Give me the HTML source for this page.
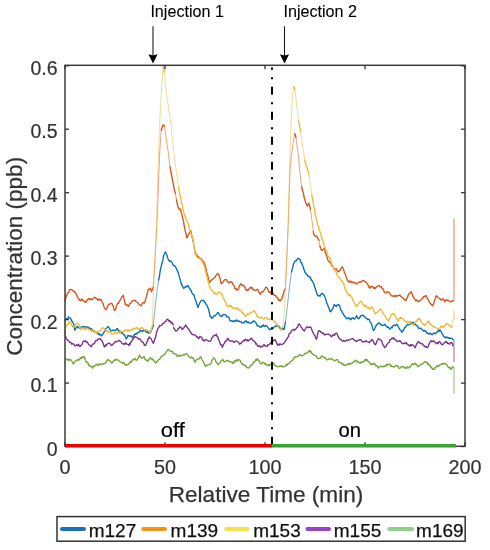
<!DOCTYPE html>
<html><head><meta charset="utf-8"><style>
html,body{margin:0;padding:0;background:#fff;}
body{width:490px;height:550px;overflow:hidden;}
svg{display:block;font-family:"Liberation Sans", sans-serif;filter:blur(0.35px);}
</style></head><body>
<svg width="490" height="550" viewBox="0 0 490 550">
<path d="M65.1,320.2 L65.8,319.4 L66.4,318.7 L67.1,319.0 L67.7,318.7 L68.3,316.9 L68.9,317.2 L69.8,317.9 L70.6,318.4 L71.2,319.6 L71.8,321.4 L72.4,321.3 L73.0,322.9 L73.6,323.7 L74.2,326.0 L74.8,330.2 L75.7,328.6 L76.5,327.3 L77.1,326.5 L77.8,326.7 L78.4,327.6 L79.1,327.6 L79.7,328.5 L80.4,328.0 L81.2,326.9 L82.0,326.7 L82.7,327.1 L83.5,326.5 L84.2,327.5 L85.0,326.9 L85.8,326.7 L86.5,327.0 L87.2,328.3 L87.9,326.8 L88.5,328.8 L89.2,328.0 L89.9,328.0 L90.6,329.1 L91.4,328.8 L92.2,329.7 L93.0,330.5 L93.7,331.5 L94.3,330.7 L95.0,331.9 L95.7,332.1 L96.4,332.8 L97.1,332.8 L97.8,333.5 L98.5,334.2 L99.1,333.8 L99.8,335.2 L100.5,334.5 L101.1,334.9 L101.8,335.7 L102.6,334.7 L103.4,333.0 L104.2,331.9 L104.9,331.1 L105.7,329.2 L106.5,328.0 L107.2,327.4 L108.0,326.5 L108.7,327.4 L109.3,328.1 L110.0,329.5 L110.7,330.5 L111.3,330.8 L112.0,330.8 L112.7,330.1 L113.3,330.6 L113.9,330.4 L114.6,330.2 L115.4,330.6 L116.2,329.9 L116.9,328.7 L117.7,328.7 L118.5,330.9 L119.2,331.2 L119.9,330.9 L120.6,331.9 L121.3,333.1 L122.0,333.0 L122.7,333.0 L123.3,334.3 L124.0,335.0 L124.7,335.0 L125.3,336.8 L126.3,338.9 L127.1,337.4 L127.9,335.3 L128.5,336.0 L129.2,335.7 L129.8,336.4 L130.4,335.8 L131.1,335.9 L131.7,337.2 L132.4,337.3 L133.1,336.5 L133.8,335.5 L134.5,334.3 L135.2,333.9 L135.8,334.3 L136.5,333.3 L137.2,333.8 L137.9,332.5 L138.6,332.2 L139.4,332.1 L140.2,330.5 L141.0,331.0 L141.6,331.2 L142.2,330.8 L142.9,331.2 L143.5,330.0 L144.1,331.0 L144.8,330.3 L145.4,330.9 L146.0,331.5 L146.7,332.3 L147.4,331.4 L148.1,332.8 L148.8,333.3 L149.7,332.2 L150.5,332.5 L151.1,330.6 L151.7,329.4 L152.3,329.1 L153.2,325.5" fill="none" stroke="#0570B5" stroke-width="1.35" stroke-linejoin="round" stroke-linecap="round"/>
<path d="M153.2,325.5 L153.9,319.1 L154.6,312.8 L155.2,306.4 L155.9,300.0 L156.6,295.0 L157.2,290.0 L157.9,285.0 L158.6,280.0" fill="none" stroke="#0570B5" stroke-width="0.9" stroke-opacity="0.6" stroke-linejoin="round" stroke-linecap="round"/>
<path d="M158.6,280.0 L159.3,276.9 L160.0,272.0 L160.7,268.6 L161.4,265.5 L162.1,262.5 L162.8,260.7 L163.4,256.4 L164.1,254.5 L164.8,253.0 L165.4,251.8 L166.1,253.2 L166.8,254.5 L167.4,257.1 L168.0,258.8 L168.6,260.0 L169.3,261.2 L170.0,260.5 L170.7,261.2 L171.4,261.8 L172.1,262.4 L172.8,264.4 L173.4,265.5 L174.1,265.5 L174.8,265.7 L175.5,267.3 L176.2,268.0 L176.9,269.5 L177.6,271.4 L178.3,272.9 L178.9,275.5 L179.6,277.6 L180.3,280.2 L180.9,282.1 L181.6,285.0 L182.3,285.2 L183.0,287.2 L183.7,288.5 L184.4,287.5 L185.0,287.2 L185.7,286.4 L186.4,287.0 L187.1,286.1 L187.8,285.4 L188.5,286.5 L189.1,287.7 L189.8,288.5 L190.5,290.2 L191.1,290.3 L191.8,292.5 L192.5,294.0 L193.2,294.5 L193.9,294.6 L194.6,297.5 L195.2,299.5 L195.9,301.0 L196.6,303.0 L197.3,305.2 L198.0,307.6 L198.7,305.1 L199.3,304.4 L200.0,302.4 L200.8,301.0 L201.6,300.5 L202.3,300.3 L203.1,300.4 L203.8,300.7 L204.6,302.1 L205.3,302.6 L206.1,304.5 L206.8,304.9 L207.5,306.5 L208.2,308.6 L208.9,310.5 L209.5,313.7 L210.2,316.7 L210.9,316.1 L211.5,318.2 L212.2,317.8 L213.0,317.5 L213.8,316.0 L214.5,315.7 L215.3,315.7 L216.1,314.6 L216.9,313.9 L217.6,312.7 L218.4,312.7 L219.2,314.4 L219.9,315.7 L220.7,315.6 L221.4,316.7 L222.2,316.2 L222.9,314.9 L223.7,314.4 L224.5,314.7 L225.3,314.9 L226.1,315.2 L226.8,316.9 L227.6,316.7 L228.3,317.0 L229.1,317.8 L229.8,320.7 L230.6,320.8 L231.4,321.1 L232.1,320.6 L232.9,321.6 L233.7,321.8 L234.4,320.4 L235.2,320.9 L235.9,321.3 L236.7,319.8 L237.5,321.0 L238.2,321.2 L239.0,320.8 L239.8,321.8 L240.6,321.8 L241.4,321.7 L242.1,323.2 L242.9,322.9 L243.6,322.6 L244.2,322.7 L244.8,321.4 L245.5,321.3 L246.2,320.9 L246.8,322.2 L247.4,322.6 L248.1,321.8 L248.8,322.8 L249.6,323.0 L250.3,323.3 L251.1,322.9 L251.9,322.9 L252.6,321.3 L253.4,321.4 L254.2,320.8 L254.9,321.8 L255.7,322.4 L256.4,323.7 L257.2,325.9 L258.0,325.7 L258.8,325.9 L259.5,327.0 L260.3,326.9 L261.1,327.3 L261.9,325.8 L262.6,326.3 L263.4,324.9 L264.1,326.1 L264.9,326.3 L265.6,325.4 L266.4,325.9 L267.2,326.4 L267.9,327.4 L268.7,328.4 L269.5,330.0 L270.3,328.9 L271.1,329.2 L271.8,329.3 L272.6,328.0 L273.4,328.2 L274.1,326.9 L274.9,326.7 L275.6,325.9 L276.4,326.5 L277.1,325.1 L277.9,326.2 L278.7,325.9 L279.4,327.5 L280.2,328.0 L280.9,328.7 L281.7,329.0 L282.3,329.0 L282.9,328.4 L283.6,329.6 L284.2,329.0 L284.9,325.2 L285.5,322.0" fill="none" stroke="#0570B5" stroke-width="1.35" stroke-linejoin="round" stroke-linecap="round"/>
<path d="M285.5,322.0 L286.2,316.3 L286.8,310.7 L287.5,305.0 L288.2,299.0 L288.8,293.0 L289.5,287.0 L290.1,282.0 L290.8,277.0 L291.4,272.0" fill="none" stroke="#0570B5" stroke-width="0.9" stroke-opacity="0.6" stroke-linejoin="round" stroke-linecap="round"/>
<path d="M291.4,272.0 L292.1,269.8 L292.8,267.4 L293.5,263.7 L294.2,262.5 L294.8,261.4 L295.5,260.6 L296.2,260.8 L296.9,259.7 L297.6,258.6 L298.3,258.3 L298.9,258.5 L299.6,259.6 L300.3,259.9 L300.9,262.5 L301.6,262.7 L302.3,265.3 L303.0,266.1 L303.7,268.8 L304.4,270.8 L305.0,272.5 L305.7,272.9 L306.4,274.2 L307.1,274.6 L307.8,275.9 L308.5,276.5 L309.1,276.2 L309.8,277.5 L310.5,277.4 L311.1,280.1 L311.8,280.0 L312.5,281.6 L313.2,282.7 L313.9,284.0 L314.6,287.0 L315.2,288.2 L315.9,290.5 L316.6,293.0 L317.3,294.7 L318.0,295.8 L318.7,295.4 L319.3,295.6 L320.0,296.3 L320.7,294.9 L321.3,293.8 L322.0,293.3 L322.7,294.1 L323.4,294.2 L324.1,295.3 L324.8,296.8 L325.4,298.0 L326.1,300.4 L326.8,303.3 L327.5,304.2 L328.2,306.5 L328.9,308.1 L329.5,310.1 L330.2,311.6 L330.9,311.7 L331.5,310.1 L332.2,309.6 L332.9,308.7 L333.6,306.2 L334.3,304.5 L335.0,305.2 L335.6,305.9 L336.3,306.5 L337.0,304.9 L337.7,305.0 L338.4,304.5 L339.1,305.2 L339.7,306.2 L340.4,308.6 L341.1,310.6 L341.7,310.7 L342.4,312.7 L343.1,313.6 L343.8,315.2 L344.5,315.7 L345.2,316.8 L345.8,317.4 L346.5,318.8 L347.2,318.5 L347.9,318.2 L348.6,317.8 L349.3,319.0 L349.9,318.3 L350.6,319.8 L351.3,319.3 L352.0,318.0 L352.7,317.8 L353.4,317.7 L354.0,319.0 L354.7,318.8 L355.4,317.8 L356.0,316.9 L356.7,315.7 L357.4,317.3 L358.1,318.6 L358.8,318.8 L359.5,317.7 L360.1,317.0 L360.8,315.7 L361.6,315.5 L362.3,315.3 L363.1,315.1 L363.9,316.3 L364.6,316.6 L365.4,317.5 L366.1,318.2 L366.9,318.4 L367.6,319.6 L368.4,319.3 L369.2,319.2 L369.9,321.3 L370.5,322.8 L371.2,323.3 L371.9,325.2 L372.6,328.2 L373.3,330.4 L374.0,330.3 L374.6,329.0 L375.3,327.3 L376.1,325.6 L376.9,324.5 L377.6,324.2 L378.4,323.3 L379.1,322.9 L379.9,323.8 L380.6,323.9 L381.4,325.3 L382.2,325.4 L382.9,325.4 L383.7,325.3 L384.5,324.3 L385.3,324.4 L386.1,326.2 L386.8,326.9 L387.6,327.3 L388.4,326.9 L389.1,328.6 L389.9,329.1 L390.6,328.4 L391.4,327.1 L392.1,327.8 L392.9,325.9 L393.7,325.3 L394.4,325.0 L395.2,325.8 L395.9,325.2 L396.7,324.3 L397.5,324.9 L398.2,326.7 L399.0,328.2 L399.8,329.4 L400.5,330.1 L401.1,330.8 L401.8,332.4 L402.5,331.0 L403.2,330.8 L403.9,329.4 L404.6,327.4 L405.4,327.5 L406.1,326.2 L406.9,325.3 L407.7,324.1 L408.4,324.5 L409.2,324.8 L410.0,324.3 L410.8,323.8 L411.6,322.4 L412.3,323.7 L413.1,322.2 L413.9,323.6 L414.6,324.7 L415.4,323.7 L416.1,325.3 L416.9,325.6 L417.6,325.9 L418.4,328.2 L419.2,328.4 L419.9,328.2 L420.7,328.2 L421.4,329.0 L422.2,329.4 L423.0,330.7 L423.8,331.0 L424.5,330.4 L425.3,331.4 L426.1,331.2 L426.9,333.3 L427.6,333.1 L428.4,333.5 L429.1,334.2 L429.9,333.2 L430.6,333.4 L431.4,334.5 L432.2,334.6 L432.9,333.9 L433.7,332.9 L434.5,333.5 L435.3,333.9 L436.1,332.7 L436.8,332.5 L437.6,331.4 L438.4,330.3 L439.1,331.6 L439.9,329.8 L440.6,330.4 L441.4,332.7 L442.1,333.4 L442.9,334.7 L443.7,336.5 L444.4,336.9 L445.2,337.9 L445.9,336.9 L446.7,337.6 L447.5,337.1 L448.2,338.2 L449.0,337.8 L449.8,338.6 L450.6,338.1 L451.4,338.4 L452.1,338.5 L452.9,339.6" fill="none" stroke="#0570B5" stroke-width="1.35" stroke-linejoin="round" stroke-linecap="round"/>
<path d="M452.9,339.6 L454,339.6 L454,345" fill="none" stroke="#0570B5" stroke-width="1" stroke-opacity="0.75"/>
<path d="M65,325 L65.1,320.2" fill="none" stroke="#0570B5" stroke-width="1" stroke-opacity="0.6"/>
<path d="M65.1,300.4 L65.8,297.8 L66.4,296.0 L67.1,294.3 L67.9,292.6 L68.7,292.3 L69.4,290.1 L70.2,289.2 L71.0,289.7 L71.8,289.6 L72.5,290.4 L73.3,291.2 L74.0,291.0 L74.8,292.3 L75.5,292.6 L76.3,294.3 L77.1,296.3 L77.8,297.5 L78.6,298.3 L79.4,300.4 L80.2,300.1 L80.9,300.8 L81.7,298.9 L82.4,299.4 L83.2,300.8 L84.0,300.8 L84.7,301.6 L85.5,302.4 L86.3,302.1 L87.0,300.2 L87.8,299.4 L88.6,298.4 L89.3,299.0 L90.1,299.9 L90.8,298.8 L91.6,299.4 L92.4,299.5 L93.2,298.8 L93.9,298.1 L94.7,297.3 L95.5,297.9 L96.2,298.5 L97.0,298.7 L97.8,300.4 L98.5,299.4 L99.3,299.0 L100.0,300.1 L100.8,299.4 L101.6,300.7 L102.3,302.3 L103.1,303.9 L103.9,306.5 L104.6,308.2 L105.2,309.3 L105.9,309.6 L106.7,308.7 L107.5,306.6 L108.2,305.3 L109.0,304.5 L109.8,303.8 L110.5,303.9 L111.2,303.1 L112.0,303.5 L112.7,305.2 L113.3,306.6 L114.0,309.7 L114.7,310.6 L115.5,309.5 L116.3,306.6 L117.1,304.5 L117.9,303.0 L118.7,303.4 L119.4,301.0 L120.2,300.4 L121.0,298.8 L121.8,296.9 L122.5,296.3 L123.3,295.3 L124.0,298.3 L124.6,301.4 L125.3,304.5 L126.1,304.4 L126.8,305.5 L127.6,305.0 L128.4,306.5 L129.2,305.0 L129.9,303.6 L130.7,303.2 L131.4,302.4 L132.2,301.0 L132.9,300.4 L133.7,300.5 L134.5,300.4 L135.3,300.4 L136.1,301.6 L136.8,302.0 L137.6,302.4 L138.3,303.7 L139.1,304.3 L139.8,305.2 L140.6,305.5 L141.4,305.5 L142.1,303.7 L142.9,302.8 L143.7,302.4 L144.3,303.1 L145.0,301.8 L145.6,298.8 L146.2,297.7 L146.8,295.0 L147.4,293.3 L148.0,290.1 L148.6,289.0 L149.2,289.4 L149.9,289.3 L150.5,288.2 L151.4,291.8 L152.0,290.6 L152.6,289.3 L153.2,287.3" fill="none" stroke="#D95319" stroke-width="1.35" stroke-linejoin="round" stroke-linecap="round"/>
<path d="M153.2,287.3 L153.8,278.2 L154.4,269.1 L155.0,260.0 L155.7,246.7 L156.4,233.3 L157.1,220.0 L157.8,202.7 L158.4,185.3 L159.1,167.9 L159.8,150.6 L160.5,140.4 L161.2,130.2" fill="none" stroke="#D95319" stroke-width="0.9" stroke-opacity="0.6" stroke-linejoin="round" stroke-linecap="round"/>
<path d="M161.2,130.2 L161.9,128.3 L162.7,125.1 L163.5,124.9 L164.3,126.1" fill="none" stroke="#D95319" stroke-width="1.35" stroke-linejoin="round" stroke-linecap="round"/>
<path d="M164.3,126.1 L165.1,131.2 L165.9,136.3 L166.6,141.1 L167.3,145.8 L168.0,150.6 L168.7,156.0 L169.3,161.5 L170.0,166.9" fill="none" stroke="#D95319" stroke-width="0.9" stroke-opacity="0.6" stroke-linejoin="round" stroke-linecap="round"/>
<path d="M170.0,166.9 L170.7,170.3 L171.3,173.7 L172.0,177.1 L172.8,181.9 L173.5,185.3 L174.2,188.6 L174.8,191.4 L175.5,193.5" fill="none" stroke="#D95319" stroke-width="1.35" stroke-linejoin="round" stroke-linecap="round"/>
<path d="M175.5,193.5 L176.5,200.0" fill="none" stroke="#D95319" stroke-width="0.9" stroke-opacity="0.6" stroke-linejoin="round" stroke-linecap="round"/>
<path d="M176.5,200.0 L177.1,203.0 L177.6,205.7 L178.6,208.2 L179.3,209.3 L179.9,209.2 L180.6,209.2 L181.3,212.7 L182.0,214.8 L182.7,218.4 L183.4,220.9 L184.0,224.5 L184.7,228.6 L185.4,231.4 L186.0,233.9 L186.7,237.8 L187.4,237.1 L188.1,235.2 L188.8,233.7 L189.5,232.9 L190.1,231.9 L190.8,230.6 L191.5,234.4 L192.2,237.4 L192.9,240.8" fill="none" stroke="#D95319" stroke-width="1.35" stroke-linejoin="round" stroke-linecap="round"/>
<path d="M192.9,240.8 L193.6,244.9 L194.2,249.0 L194.9,253.1" fill="none" stroke="#D95319" stroke-width="0.9" stroke-opacity="0.6" stroke-linejoin="round" stroke-linecap="round"/>
<path d="M194.9,253.1 L195.6,252.8 L196.2,255.0 L196.9,255.1 L197.7,256.4 L198.4,256.7 L199.2,257.5 L200.0,258.2 L200.8,259.3 L201.6,258.8 L202.3,260.9 L203.1,261.2 L203.8,262.1 L204.4,263.1 L205.1,265.3 L205.8,267.6 L206.4,271.2 L207.1,273.5 L207.8,275.6 L208.5,279.4 L209.2,281.6 L209.9,282.2 L210.5,280.9 L211.2,280.6 L212.0,279.6 L212.8,279.1 L213.5,278.7 L214.3,277.6 L215.1,277.1 L215.8,275.8 L216.6,274.8 L217.3,273.5 L218.0,273.7 L218.7,274.8 L219.4,276.5 L220.1,278.4 L220.7,281.8 L221.4,283.7 L222.1,282.6 L222.8,282.4 L223.5,281.6 L224.2,280.1 L225.0,279.7 L225.8,279.6 L226.5,279.6 L227.2,281.0 L227.9,282.1 L228.6,282.7 L229.3,282.8 L230.1,281.7 L230.8,281.9 L231.6,281.6 L232.4,283.1 L233.1,284.6 L233.9,285.5 L234.7,287.8 L235.5,289.1 L236.2,288.2 L237.0,290.3 L237.8,289.8 L238.6,289.1 L239.3,285.8 L240.1,285.1 L240.8,283.7 L241.6,284.8 L242.4,285.6 L243.1,285.1 L243.9,285.7 L244.6,286.6 L245.2,287.9 L245.9,289.8 L246.6,290.8 L247.4,289.5 L248.1,290.2 L248.8,289.6 L249.6,287.9 L250.3,287.9 L251.1,287.1 L251.9,288.8 L252.6,287.9 L253.4,290.1 L254.2,290.2 L254.9,290.0 L255.7,290.5 L256.4,289.9 L257.2,289.2 L258.0,289.9 L258.8,292.5 L259.5,293.0 L260.3,294.3 L261.1,292.6 L261.9,291.8 L262.6,292.0 L263.4,291.2 L264.1,290.1 L264.9,288.8 L265.6,287.4 L266.4,287.1 L267.2,288.1 L267.9,289.4 L268.7,291.8 L269.5,292.5 L270.3,291.8 L271.1,293.7 L271.8,294.2 L272.6,293.8 L273.4,293.4 L274.1,295.4 L274.9,295.4 L275.6,295.3 L276.4,297.4 L277.1,297.4 L277.9,298.9 L278.7,300.4 L279.4,299.9 L280.2,300.9 L280.9,299.8 L281.7,299.4 L282.3,297.0 L282.9,295.0 L283.5,293.0 L284.1,291.3 L284.7,289.6 L285.3,289.2" fill="none" stroke="#D95319" stroke-width="1.35" stroke-linejoin="round" stroke-linecap="round"/>
<path d="M285.3,289.2 L286.3,270.8 L287.1,250.4 L288.0,230.0 L288.7,209.4 L289.4,188.8 L290.1,168.2 L290.8,161.8 L291.4,155.5 L292.0,151.2 L292.6,147.0 L293.2,142.7 L293.9,138.1 L294.6,133.6" fill="none" stroke="#D95319" stroke-width="0.9" stroke-opacity="0.6" stroke-linejoin="round" stroke-linecap="round"/>
<path d="M294.6,133.6 L295.2,134.7 L295.9,137.3" fill="none" stroke="#D95319" stroke-width="1.35" stroke-linejoin="round" stroke-linecap="round"/>
<path d="M295.9,137.3 L296.5,141.9 L297.2,146.4 L297.9,151.9 L298.6,157.3 L299.6,170.4 L300.3,175.8 L300.9,181.3 L301.6,186.7" fill="none" stroke="#D95319" stroke-width="0.9" stroke-opacity="0.6" stroke-linejoin="round" stroke-linecap="round"/>
<path d="M301.6,186.7 L302.3,190.1 L303.0,191.7 L303.7,194.9 L304.4,198.5 L305.0,199.9 L305.7,203.1 L306.4,204.1 L307.1,206.1 L308.0,204.6 L308.8,203.1 L309.6,205.5 L310.4,209.2" fill="none" stroke="#D95319" stroke-width="1.35" stroke-linejoin="round" stroke-linecap="round"/>
<path d="M310.4,209.2 L311.1,214.3 L311.8,219.4 L312.6,225.5 L313.3,231.6" fill="none" stroke="#D95319" stroke-width="0.9" stroke-opacity="0.6" stroke-linejoin="round" stroke-linecap="round"/>
<path d="M313.3,231.6 L313.9,235.1 L314.6,235.1 L315.4,236.5 L316.1,236.6 L316.9,236.1 L317.6,238.1 L318.3,239.1 L319.0,240.2" fill="none" stroke="#D95319" stroke-width="1.35" stroke-linejoin="round" stroke-linecap="round"/>
<path d="M319.0,240.2 L320.0,246.3" fill="none" stroke="#D95319" stroke-width="0.9" stroke-opacity="0.6" stroke-linejoin="round" stroke-linecap="round"/>
<path d="M320.0,246.3 L320.7,248.5 L321.3,249.9 L322.0,250.4 L322.7,249.8 L323.4,249.5 L324.1,248.4 L324.8,249.5 L325.4,252.9 L326.1,254.5 L326.8,256.4 L327.5,259.1 L328.2,260.6 L328.9,261.6 L329.5,261.6 L330.2,262.7 L330.9,262.8 L331.5,265.6 L332.2,265.7 L332.9,266.3 L333.6,268.4 L334.3,269.8 L335.0,269.2 L335.6,268.7 L336.3,268.8 L337.0,270.3 L337.7,271.8 L338.4,271.8 L339.1,270.7 L339.7,270.8 L340.4,269.8 L341.1,268.4 L341.7,267.8 L342.4,266.7 L343.1,268.6 L343.8,270.2 L344.5,272.9 L345.2,273.9 L345.8,275.7 L346.5,278.0 L347.2,280.1 L347.9,280.7 L348.6,282.0 L349.3,281.1 L349.9,282.1 L350.6,281.0 L351.4,282.5 L352.1,281.9 L352.9,281.9 L353.7,283.1 L354.4,282.7 L355.2,282.8 L355.9,283.5 L356.7,284.1 L357.5,282.8 L358.2,282.5 L359.0,282.0 L359.8,282.0 L360.5,281.8 L361.1,282.1 L361.8,281.5 L362.4,280.5 L363.1,280.4 L363.9,280.7 L364.6,281.4 L365.4,281.7 L366.1,282.4 L366.9,283.4 L367.6,284.1 L368.4,285.9 L369.2,287.6 L369.9,288.3 L370.7,286.3 L371.4,286.8 L372.2,286.5 L373.0,287.3 L373.8,288.3 L374.5,287.5 L375.3,288.6 L376.1,287.4 L376.9,286.5 L377.6,286.1 L378.4,285.5 L379.1,285.6 L379.9,286.9 L380.6,286.9 L381.4,286.5 L382.2,288.8 L382.9,288.6 L383.7,290.2 L384.5,292.7 L385.3,292.8 L386.1,292.9 L386.8,291.8 L387.6,291.6 L388.4,292.5 L389.1,292.2 L389.9,293.7 L390.6,294.7 L391.4,295.8 L392.1,295.9 L392.9,296.2 L393.7,295.7 L394.4,296.9 L395.2,295.7 L395.9,295.7 L396.7,296.7 L397.5,295.5 L398.2,295.7 L399.0,295.6 L399.8,294.7 L400.6,296.4 L401.4,296.7 L402.1,297.3 L402.9,297.8 L403.6,299.1 L404.4,299.2 L405.1,300.2 L405.9,300.8 L406.7,298.1 L407.4,297.8 L408.2,294.9 L409.0,293.7 L409.7,293.8 L410.3,292.6 L411.0,291.6 L411.7,292.9 L412.4,294.3 L413.1,296.7 L413.8,297.2 L414.4,299.0 L415.1,299.8 L415.9,300.7 L416.6,300.0 L417.4,300.4 L418.2,301.8 L418.9,301.3 L419.7,301.0 L420.4,300.1 L421.2,299.8 L422.0,298.5 L422.8,298.5 L423.5,296.5 L424.3,296.7 L425.0,296.0 L425.6,296.0 L426.3,295.7 L427.0,298.0 L427.7,298.7 L428.4,299.8 L429.1,301.9 L429.7,302.5 L430.4,303.9 L431.1,304.0 L431.7,304.7 L432.4,305.9 L433.1,305.1 L433.8,302.9 L434.5,300.8 L435.2,298.7 L435.8,296.4 L436.5,295.7 L437.2,296.4 L437.9,297.4 L438.6,297.8 L439.3,298.3 L439.9,298.6 L440.6,299.8 L441.3,299.8 L442.0,300.0 L442.7,298.8 L443.4,299.3 L444.0,299.9 L444.7,301.8 L445.4,300.8 L446.0,300.3 L446.7,299.8 L447.4,300.5 L448.1,299.9 L448.8,300.8 L449.5,301.7 L450.1,301.9 L450.8,301.8 L451.5,301.5 L452.2,300.5 L452.9,300.8" fill="none" stroke="#D95319" stroke-width="1.35" stroke-linejoin="round" stroke-linecap="round"/>
<path d="M452.9,300.8 L454,300.8 L454,218.5" fill="none" stroke="#D95319" stroke-width="1" stroke-opacity="0.75"/>
<path d="M65,302 L65.1,300.4" fill="none" stroke="#D95319" stroke-width="1" stroke-opacity="0.6"/>
<path d="M65.1,327.3 L65.8,327.4 L66.4,325.3 L67.1,324.9 L67.9,324.6 L68.7,322.4 L69.5,322.0 L70.3,322.3 L71.2,323.7 L71.8,325.4 L72.4,325.7 L73.0,327.3 L73.6,327.9 L74.2,326.8 L74.8,326.5 L75.7,324.5 L76.5,323.7 L77.3,323.3 L78.1,323.9 L78.9,324.3 L79.7,327.0 L80.4,329.1 L81.1,329.7 L81.7,327.8 L82.3,328.1 L83.0,328.0 L83.6,327.8 L84.2,329.7 L84.9,328.5 L85.5,329.6 L86.1,328.4 L86.8,328.2 L87.4,328.6 L88.0,328.5 L88.7,329.7 L89.3,330.1 L89.9,330.2 L90.6,330.1 L91.4,331.2 L92.2,331.2 L93.0,330.5 L93.7,330.6 L94.3,330.7 L95.0,332.6 L95.7,332.1 L96.5,332.6 L97.2,331.2 L98.0,332.4 L98.8,332.1 L99.5,331.2 L100.1,330.4 L100.8,330.0 L101.5,329.0 L102.2,328.1 L102.9,328.1 L103.6,327.7 L104.2,328.9 L104.9,330.0 L105.6,330.1 L106.2,331.6 L106.9,331.1 L107.7,330.6 L108.5,332.5 L109.2,331.2 L110.0,332.0 L110.8,332.3 L111.5,333.8 L112.3,334.4 L113.1,334.3 L113.8,333.8 L114.6,332.6 L115.3,333.1 L116.1,332.8 L116.8,332.4 L117.5,333.4 L118.2,331.9 L118.8,332.1 L119.5,333.1 L120.2,332.2 L121.0,331.0 L121.8,331.5 L122.5,332.1 L123.3,331.2 L124.0,331.6 L124.8,330.0 L125.5,329.9 L126.3,330.7 L127.0,329.7 L127.7,331.4 L128.3,330.0 L129.0,330.9 L129.7,331.1 L130.4,330.2 L131.1,329.5 L131.8,329.1 L132.4,330.1 L133.1,329.1 L133.8,328.1 L134.5,328.2 L135.2,328.7 L135.9,328.0 L136.6,328.0 L137.2,327.5 L137.9,329.1 L138.6,328.7 L139.3,329.4 L140.0,328.8 L140.6,329.3 L141.3,327.4 L142.0,327.8 L142.7,328.2 L143.4,328.5 L144.2,329.9 L144.9,330.2 L145.7,329.7 L146.5,329.8 L147.2,330.0 L148.0,330.7 L148.8,331.2 L149.5,331.7 L150.1,333.1 L150.8,332.8 L151.6,328.8 L152.3,326.0" fill="none" stroke="#EDBA38" stroke-width="1.35" stroke-linejoin="round" stroke-linecap="round"/>
<path d="M152.3,326.0 L153.2,300.0 L154.1,276.0 L154.7,264.0 L155.3,252.0 L155.9,240.0 L156.6,220.0 L157.4,190.0 L158.3,160.0 L159.1,140.0 L159.8,120.0 L160.7,105.0 L161.5,90.0 L162.3,78.2 L163.2,66.5" fill="none" stroke="#EDBA38" stroke-width="0.9" stroke-opacity="0.6" stroke-linejoin="round" stroke-linecap="round"/>
<path d="M163.2,66.5 L163.8,69.9 L164.5,72.0" fill="none" stroke="#EDBA38" stroke-width="1.35" stroke-linejoin="round" stroke-linecap="round"/>
<path d="M164.5,72.0 L165.2,81.0 L166.0,90.0 L166.7,94.7 L167.3,99.3 L168.0,104.0 L168.8,109.3 L169.6,114.7 L170.4,120.0 L171.1,126.8 L171.7,133.6 L172.4,140.4 L173.1,145.8 L173.8,151.3 L174.5,156.7 L175.2,162.2 L175.8,167.6 L176.5,173.1 L177.2,177.8 L177.9,182.6 L178.6,187.3" fill="none" stroke="#EDBA38" stroke-width="0.9" stroke-opacity="0.6" stroke-linejoin="round" stroke-linecap="round"/>
<path d="M178.6,187.3 L179.3,191.2 L179.9,194.8 L180.6,197.6 L181.3,201.5 L182.0,204.6 L182.7,207.8 L183.7,212.2 L184.4,213.9 L185.0,216.0 L185.7,218.4 L186.4,219.5 L187.1,221.6 L187.8,222.4 L188.5,224.3 L189.1,227.3 L189.8,230.6 L190.5,232.8 L191.1,233.5 L191.8,235.7 L192.5,237.9 L193.2,240.9 L193.9,244.9 L194.6,248.4 L195.2,251.4 L195.9,255.1 L196.7,256.8 L197.4,257.4 L198.2,258.4 L199.0,258.2 L199.8,258.5 L200.5,258.9 L201.2,259.6 L202.0,261.2 L202.7,262.6 L203.4,264.4 L204.1,265.3 L204.8,267.9 L205.4,270.2 L206.1,273.5 L206.8,276.0 L207.5,279.1 L208.2,281.6 L208.9,284.1 L209.5,286.4 L210.2,288.0 L211.0,289.7 L211.8,290.4 L212.5,290.4 L213.3,292.2 L214.1,293.4 L214.8,292.8 L215.6,293.9 L216.3,294.3 L217.1,293.5 L217.9,293.7 L218.6,292.1 L219.4,292.2 L220.2,292.5 L220.9,293.2 L221.7,293.8 L222.4,295.3 L223.1,297.8 L223.8,298.9 L224.5,300.4 L225.3,301.6 L226.1,303.2 L226.8,306.0 L227.6,306.5 L228.3,306.3 L229.1,305.5 L229.8,306.4 L230.6,305.5 L231.4,306.6 L232.1,308.0 L232.9,307.0 L233.7,308.6 L234.4,308.3 L235.2,308.7 L235.9,308.5 L236.7,307.6 L237.5,309.2 L238.2,308.2 L239.0,309.4 L239.8,310.6 L240.6,310.4 L241.4,311.0 L242.1,313.1 L242.9,312.7 L243.6,313.7 L244.2,315.3 L244.8,315.1 L245.5,316.2 L246.1,316.3 L246.8,314.8 L247.4,313.8 L248.0,313.7 L248.8,314.0 L249.6,314.1 L250.3,312.2 L251.1,312.7 L251.9,312.4 L252.6,311.9 L253.4,310.6 L254.2,310.6 L254.9,311.9 L255.7,312.9 L256.4,314.6 L257.2,316.7 L258.0,316.5 L258.8,317.4 L259.5,317.8 L260.3,317.8 L261.1,317.5 L261.9,317.3 L262.6,318.2 L263.4,318.8 L264.1,318.9 L264.9,317.7 L265.6,317.7 L266.4,317.8 L267.2,317.7 L267.9,319.4 L268.7,319.4 L269.5,319.8 L270.3,318.9 L271.1,319.0 L271.8,319.6 L272.6,319.8 L273.4,320.7 L274.1,321.6 L274.9,321.3 L275.6,322.9 L276.4,323.5 L277.1,325.8 L277.9,326.5 L278.7,328.0 L279.4,328.2 L280.0,328.9 L280.7,330.0 L281.4,329.9 L282.1,327.6 L282.8,326.9" fill="none" stroke="#EDBA38" stroke-width="1.35" stroke-linejoin="round" stroke-linecap="round"/>
<path d="M282.8,326.9 L283.6,319.2 L284.3,311.6 L285.1,295.8 L285.9,280.0 L286.6,263.3 L287.3,246.7 L288.0,230.0 L288.8,199.1 L289.5,168.2 L290.2,146.3 L291.0,124.5 L291.6,110.9 L292.3,97.3 L293.0,91.8 L293.7,86.4" fill="none" stroke="#EDBA38" stroke-width="0.9" stroke-opacity="0.6" stroke-linejoin="round" stroke-linecap="round"/>
<path d="M293.7,86.4 L294.4,88.3 L295.0,90.0" fill="none" stroke="#EDBA38" stroke-width="1.35" stroke-linejoin="round" stroke-linecap="round"/>
<path d="M295.0,90.0 L295.6,95.5 L296.2,100.9 L296.8,106.4 L297.4,111.2 L298.0,116.1 L298.6,120.9" fill="none" stroke="#EDBA38" stroke-width="0.9" stroke-opacity="0.6" stroke-linejoin="round" stroke-linecap="round"/>
<path d="M298.6,120.9 L299.2,124.2 L299.9,128.0 L300.5,131.8" fill="none" stroke="#EDBA38" stroke-width="1.35" stroke-linejoin="round" stroke-linecap="round"/>
<path d="M300.5,131.8 L301.1,135.4 L301.7,139.1 L302.3,142.7 L302.9,147.0 L303.5,151.2 L304.1,155.5 L304.7,160.0" fill="none" stroke="#EDBA38" stroke-width="0.9" stroke-opacity="0.6" stroke-linejoin="round" stroke-linecap="round"/>
<path d="M304.7,160.0 L305.4,162.8 L306.0,165.2 L306.7,166.3 L307.4,168.8 L308.1,171.2 L308.8,174.5" fill="none" stroke="#EDBA38" stroke-width="1.35" stroke-linejoin="round" stroke-linecap="round"/>
<path d="M308.8,174.5 L309.6,179.6 L310.4,184.7 L311.1,189.8 L311.8,194.9" fill="none" stroke="#EDBA38" stroke-width="0.9" stroke-opacity="0.6" stroke-linejoin="round" stroke-linecap="round"/>
<path d="M311.8,194.9 L312.5,199.4 L313.2,202.4 L313.9,207.1 L314.6,209.5 L315.2,214.7 L315.9,217.3 L316.6,219.9 L317.3,223.4 L318.0,225.5 L318.7,227.3 L319.3,230.3 L320.0,231.6 L320.7,234.0 L321.3,235.9 L322.0,239.0 L322.7,240.0 L323.4,243.1 L324.1,245.0 L324.8,247.0 L325.4,249.3 L326.1,250.2 L326.8,251.5 L327.5,254.6 L328.2,256.5 L328.9,256.9 L329.5,257.9 L330.2,258.6 L330.9,260.3 L331.5,262.9 L332.2,265.7 L332.9,266.8 L333.6,268.6 L334.3,268.8 L335.0,269.4 L335.6,271.5 L336.3,272.9 L337.0,274.8 L337.7,276.5 L338.4,276.9 L339.1,277.0 L339.7,277.6 L340.4,279.0 L341.1,280.6 L341.7,281.3 L342.4,281.0 L343.1,283.0 L343.8,284.2 L344.5,287.1 L345.2,289.3 L345.8,289.6 L346.5,291.2 L347.2,293.4 L347.9,294.2 L348.6,295.3 L349.3,295.9 L349.9,294.6 L350.6,295.3 L351.3,297.2 L352.0,297.5 L352.7,299.4 L353.4,300.6 L354.0,302.8 L354.7,303.5 L355.4,305.2 L356.0,304.9 L356.7,306.5 L357.4,304.9 L358.1,304.3 L358.8,303.5 L359.5,302.7 L360.1,301.6 L360.8,301.0 L361.6,301.6 L362.3,303.2 L363.1,305.0 L363.9,305.7 L364.6,306.3 L365.4,304.8 L366.1,306.0 L366.9,306.9 L367.6,308.0 L368.4,307.3 L369.2,309.0 L369.9,309.2 L370.7,307.2 L371.4,307.6 L372.2,306.9 L373.0,308.8 L373.8,310.8 L374.5,311.9 L375.3,314.1 L376.1,313.2 L376.9,312.7 L377.6,311.6 L378.4,311.0 L379.1,310.7 L379.7,309.6 L380.4,309.0 L381.1,309.9 L381.7,310.0 L382.4,312.0 L383.2,313.5 L383.9,314.5 L384.7,315.3 L385.5,317.1 L386.3,318.7 L387.1,319.7 L387.8,320.1 L388.6,321.2 L389.4,318.8 L390.1,317.6 L390.9,315.1 L391.6,314.1 L392.4,313.6 L393.1,314.5 L393.9,314.0 L394.7,315.1 L395.5,316.5 L396.2,318.2 L397.0,318.8 L397.8,321.2 L398.6,320.4 L399.3,318.3 L400.1,318.6 L400.8,317.1 L401.6,318.4 L402.4,318.7 L403.1,318.5 L403.9,320.2 L404.6,320.7 L405.4,321.0 L406.1,322.6 L406.9,322.2 L407.7,321.2 L408.4,322.4 L409.2,322.4 L410.0,321.2 L410.8,322.7 L411.6,323.9 L412.3,323.7 L413.1,325.3 L413.9,325.2 L414.6,323.2 L415.4,323.1 L416.1,321.2 L416.9,321.3 L417.6,319.0 L418.4,319.5 L419.2,318.2 L419.9,320.3 L420.7,319.9 L421.4,321.7 L422.2,323.3 L423.0,324.3 L423.8,323.6 L424.5,325.6 L425.3,325.3 L426.1,323.8 L426.9,323.9 L427.6,321.5 L428.4,321.2 L429.1,322.2 L429.9,324.1 L430.6,323.7 L431.4,325.3 L432.2,325.3 L432.9,326.3 L433.7,326.4 L434.5,327.3 L435.3,326.9 L436.1,327.7 L436.8,328.2 L437.6,329.4 L438.4,329.5 L439.1,328.2 L439.9,327.9 L440.6,326.3 L441.4,325.9 L442.1,327.4 L442.9,326.3 L443.7,327.3 L444.4,326.4 L445.2,325.6 L445.9,324.0 L446.7,323.3 L447.5,324.5 L448.2,324.4 L449.0,325.0 L449.8,325.3 L450.5,326.7 L451.1,325.8 L451.8,327.3" fill="none" stroke="#EDBA38" stroke-width="1.35" stroke-linejoin="round" stroke-linecap="round"/>
<path d="M451.8,327.3 L452.4,323.6 L452.9,320.0" fill="none" stroke="#EDBA38" stroke-width="0.9" stroke-opacity="0.6" stroke-linejoin="round" stroke-linecap="round"/>
<path d="M452.9,320 L454,320 L454,310" fill="none" stroke="#EDBA38" stroke-width="1" stroke-opacity="0.75"/>
<path d="M65,335 L65.1,327.3" fill="none" stroke="#EDBA38" stroke-width="1" stroke-opacity="0.6"/>
<path d="M65.6,336.2 L66.3,338.7 L67.1,339.3 L67.9,340.4 L68.7,340.7 L69.4,342.3 L70.2,342.5 L71.0,342.4 L71.8,344.2 L72.5,343.7 L73.3,343.9 L74.0,344.3 L74.6,345.8 L75.3,345.9 L76.0,345.5 L76.6,344.8 L77.2,345.6 L77.9,344.9 L78.5,344.3 L79.2,346.2 L79.8,345.5 L80.4,346.3 L81.2,345.3 L82.0,344.6 L82.7,342.5 L83.5,341.0 L84.2,341.6 L85.0,341.2 L85.8,340.9 L86.5,342.2 L87.2,342.0 L87.9,342.9 L88.5,344.5 L89.2,344.8 L89.9,345.6 L90.6,346.3 L91.4,346.5 L92.2,344.4 L92.9,344.0 L93.7,344.0 L94.5,343.5 L95.2,341.4 L96.0,340.5 L96.7,340.7 L97.5,339.9 L98.2,339.0 L99.0,339.0 L99.8,338.8 L100.5,338.7 L101.1,340.0 L101.8,340.3 L102.5,342.2 L103.1,343.1 L103.8,345.6 L104.4,347.0 L105.0,346.3 L105.7,344.9 L106.3,345.8 L106.9,344.3 L107.7,343.7 L108.5,343.3 L109.2,343.1 L110.0,343.8 L110.7,344.5 L111.3,345.3 L112.0,345.0 L112.7,344.9 L113.4,343.5 L114.1,343.0 L114.8,342.2 L115.4,341.3 L116.1,341.9 L116.9,341.8 L117.7,341.3 L118.4,340.5 L119.2,340.4 L119.9,341.2 L120.5,341.3 L121.2,341.9 L121.9,343.5 L122.6,343.8 L123.3,344.0 L124.0,343.4 L124.8,344.6 L125.5,342.7 L126.3,343.5 L127.0,344.1 L127.6,344.3 L128.2,344.5 L128.9,345.5 L129.5,343.7 L130.2,344.3 L130.8,341.8 L131.4,341.9 L132.2,340.3 L133.0,338.4 L133.6,338.9 L134.2,336.9 L134.9,336.6 L135.5,336.8 L136.2,337.4 L136.9,337.5 L137.6,337.9 L138.3,338.5 L138.9,339.2 L139.6,338.9 L140.3,339.2 L140.9,340.5 L141.6,341.9 L142.3,342.0 L143.0,342.1 L143.7,343.5 L144.4,345.3 L145.2,345.5 L145.9,344.5 L146.7,342.4 L147.3,341.4 L148.0,338.6 L148.7,338.9 L149.3,336.8 L150.0,338.0 L150.6,338.1 L151.3,338.9 L152.0,340.9 L152.7,341.9 L153.4,343.5 L154.1,341.1 L154.7,339.0 L155.4,338.0 L156.1,334.8 L156.7,331.7 L157.4,330.0 L158.1,328.2 L158.8,327.5 L159.5,325.5 L160.2,325.6 L160.9,325.7 L161.6,325.2 L162.3,324.5 L163.0,323.4 L163.7,323.3 L164.3,322.3 L165.0,321.8 L165.7,321.7 L166.3,320.5 L167.0,319.3 L167.7,319.1 L168.4,320.1 L169.1,321.4 L169.8,320.6 L170.5,321.8 L171.2,323.2 L171.8,322.2 L172.5,323.3 L173.2,324.5" fill="none" stroke="#7E2F8E" stroke-width="1.35" stroke-linejoin="round" stroke-linecap="round"/>
<path d="M173.2,324.5 L173.5,328.0" fill="none" stroke="#7E2F8E" stroke-width="0.9" stroke-opacity="0.6" stroke-linejoin="round" stroke-linecap="round"/>
<path d="M173.5,328.0 L174.2,328.2 L175.0,330.0 L175.8,331.1 L176.5,331.0 L177.3,330.5 L178.1,328.6 L178.8,328.7 L179.6,326.9 L180.4,327.1 L181.1,327.4 L181.9,329.3 L182.7,329.0 L183.4,328.2 L184.2,327.3 L184.9,326.3 L185.7,324.9 L186.5,326.9 L187.2,326.9 L188.0,328.7 L188.8,329.0 L189.6,330.7 L190.3,332.3 L191.1,332.7 L191.8,334.1 L192.6,334.8 L193.4,334.7 L194.1,334.5 L194.9,335.1 L195.7,335.3 L196.4,336.9 L197.2,336.6 L198.0,338.2 L198.8,338.7 L199.5,336.9 L200.2,336.4 L201.0,337.1 L201.8,337.3 L202.6,340.0 L203.3,339.9 L204.1,341.2 L204.8,340.2 L205.6,339.8 L206.3,339.5 L207.1,340.2 L207.9,340.8 L208.6,341.0 L209.4,341.3 L210.2,341.2 L211.0,340.4 L211.8,337.8 L212.5,337.6 L213.3,336.1 L214.1,335.3 L214.8,335.7 L215.6,335.2 L216.3,334.1 L217.1,336.7 L217.9,336.8 L218.6,340.2 L219.4,341.2 L220.2,343.6 L220.9,345.1 L221.7,345.0 L222.4,347.3 L223.1,345.4 L223.8,343.9 L224.5,343.3 L225.3,341.1 L226.1,341.4 L226.8,340.1 L227.6,338.2 L228.3,339.2 L229.1,340.4 L229.8,340.7 L230.6,341.2 L231.4,341.0 L232.1,340.9 L232.9,341.1 L233.7,342.2 L234.4,342.5 L235.2,341.1 L235.9,341.1 L236.7,341.2 L237.5,341.8 L238.2,341.8 L239.0,343.0 L239.8,344.3 L240.6,343.1 L241.4,343.2 L242.1,341.7 L242.9,341.2 L243.6,340.3 L244.2,341.1 L244.8,339.7 L245.5,339.2 L246.2,340.4 L246.8,340.4 L247.4,339.8 L248.1,341.2 L248.8,340.3 L249.6,339.6 L250.3,339.5 L251.1,338.2 L251.9,338.6 L252.6,340.1 L253.4,340.5 L254.2,341.2 L254.9,341.7 L255.7,344.0 L256.4,343.5 L257.2,345.3 L258.0,346.4 L258.8,345.6 L259.5,345.8 L260.3,347.3 L261.1,346.2 L261.9,346.8 L262.6,346.8 L263.4,345.3 L264.1,344.6 L264.9,345.8 L265.6,346.0 L266.4,346.3 L267.2,346.4 L267.9,344.7 L268.7,344.8 L269.5,344.3 L270.3,343.0 L271.1,342.9 L271.8,340.7 L272.6,340.2 L273.4,341.1 L274.1,339.8 L274.9,339.6 L275.6,340.2 L276.3,342.3 L277.0,343.6 L277.7,345.3 L278.4,344.3 L279.2,345.1 L279.9,343.7 L280.7,344.3 L281.5,344.6 L282.2,344.2 L283.0,344.1 L283.8,343.3 L284.6,342.5 L285.3,341.0 L286.1,340.0 L286.8,339.2 L287.6,337.5 L288.4,336.9 L289.1,333.8 L289.9,333.1 L290.7,333.1 L291.4,330.6 L292.2,330.2 L293.0,330.0 L293.8,329.3 L294.5,330.3 L295.2,329.3 L296.0,329.0 L296.8,327.5 L297.6,327.2 L298.3,324.6 L299.1,323.9 L299.9,324.8 L300.6,326.0 L301.4,327.5 L302.1,328.0 L302.8,329.5 L303.5,330.3 L304.2,331.0 L304.9,329.7 L305.7,328.6 L306.4,327.2 L307.2,326.9 L308.0,327.6 L308.8,327.2 L309.5,327.4 L310.3,326.9 L311.1,327.8 L311.9,329.9 L312.6,332.1 L313.4,333.1 L314.1,334.8 L314.9,335.4 L315.6,337.6 L316.4,339.2 L317.1,337.2 L317.8,333.2 L318.5,331.0 L319.2,330.6 L320.0,331.1 L320.8,332.2 L321.5,332.0 L322.3,333.5 L323.1,332.9 L323.8,333.6 L324.6,335.1 L325.4,334.3 L326.1,334.3 L326.9,334.4 L327.7,334.1 L328.4,333.9 L329.2,334.8 L329.9,335.0 L330.7,336.1 L331.5,336.8 L332.2,336.1 L333.0,334.6 L333.8,335.1 L334.6,335.5 L335.3,333.3 L336.1,333.4 L336.8,333.1 L337.6,335.6 L338.4,336.7 L339.1,338.1 L339.9,339.2 L340.7,339.6 L341.4,339.6 L342.2,341.0 L343.0,341.2 L343.7,340.5 L344.3,340.8 L345.0,341.5 L345.7,340.9 L346.5,339.9 L347.2,340.3 L348.0,340.7 L348.7,339.8 L349.4,339.9 L350.1,339.3 L350.9,339.3 L351.6,338.8 L352.3,338.6 L353.0,338.4 L353.8,339.8 L354.5,339.8 L355.3,341.0 L356.0,341.0 L356.7,341.6 L357.3,340.4 L358.0,340.4 L358.7,340.6 L359.3,339.7 L360.0,339.6 L360.8,339.6 L361.6,341.0 L362.3,341.9 L363.1,341.6 L363.9,341.9 L364.6,341.5 L365.4,341.6 L366.1,340.6 L366.9,341.5 L367.6,341.9 L368.4,342.1 L369.2,342.7 L369.9,341.6 L370.7,341.4 L371.4,339.6 L372.2,339.6 L373.0,340.7 L373.8,342.7 L374.5,343.9 L375.3,344.7 L376.1,343.4 L376.9,341.2 L377.6,340.0 L378.4,338.6 L379.1,339.0 L379.9,339.8 L380.6,339.9 L381.4,340.6 L382.2,342.8 L382.9,345.1 L383.7,345.4 L384.5,347.8 L385.3,347.1 L386.1,346.3 L386.8,344.5 L387.6,343.7 L388.4,342.7 L389.1,342.6 L389.9,339.7 L390.6,339.6 L391.4,339.2 L392.1,337.9 L392.9,338.7 L393.7,337.6 L394.4,339.5 L395.2,339.6 L395.9,339.8 L396.7,341.6 L397.5,341.5 L398.2,341.2 L399.0,341.3 L399.8,340.6 L400.6,341.4 L401.4,342.4 L402.1,343.6 L402.9,343.7 L403.6,343.5 L404.4,343.0 L405.1,343.8 L405.9,342.7 L406.7,342.9 L407.4,344.6 L408.2,344.7 L409.0,345.7 L409.8,346.0 L410.5,344.4 L411.2,345.9 L412.0,344.7 L412.8,345.2 L413.6,345.4 L414.3,346.6 L415.1,347.8 L415.9,346.0 L416.6,343.7 L417.4,343.0 L418.2,341.6 L418.9,342.0 L419.7,343.0 L420.4,342.9 L421.2,343.7 L422.0,343.7 L422.8,344.1 L423.5,345.7 L424.3,345.7 L425.1,347.1 L425.8,346.8 L426.6,346.7 L427.3,347.8 L428.1,346.9 L428.9,344.5 L429.6,342.6 L430.4,341.6 L431.2,340.6 L431.9,341.7 L432.7,341.5 L433.5,340.6 L434.2,341.6 L435.0,342.1 L435.8,343.0 L436.5,343.7 L437.3,342.6 L438.1,343.6 L438.8,341.8 L439.6,341.6 L440.4,342.7 L441.1,343.8 L441.9,344.6 L442.7,344.7 L443.4,343.9 L444.2,342.7 L444.9,342.5 L445.7,341.6 L446.5,341.4 L447.2,343.3 L448.0,342.9 L448.8,343.7 L449.6,344.2 L450.3,342.7 L451.1,342.7 L451.8,342.7 L452.4,343.7 L452.9,345.7" fill="none" stroke="#7E2F8E" stroke-width="1.35" stroke-linejoin="round" stroke-linecap="round"/>
<path d="M452.9,345.7 L454,345.7 L454,362" fill="none" stroke="#7E2F8E" stroke-width="1" stroke-opacity="0.75"/>
<path d="M65,330 L65.6,336.2" fill="none" stroke="#7E2F8E" stroke-width="1" stroke-opacity="0.6"/>
<path d="M66.1,358.9 L66.8,359.3 L67.5,359.3 L68.2,360.4 L68.9,359.1 L69.5,360.2 L70.2,359.4 L71.0,360.1 L71.8,361.2 L72.5,362.5 L73.3,364.0 L74.0,362.9 L74.6,361.8 L75.3,360.9 L76.0,360.8 L76.6,360.6 L77.3,359.9 L78.0,359.4 L78.6,360.3 L79.2,359.9 L79.9,358.9 L80.5,357.5 L81.2,358.5 L81.8,358.1 L82.4,356.8 L83.1,357.5 L83.8,356.4 L84.5,357.3 L85.2,359.7 L85.8,361.0 L86.5,362.4 L87.3,362.2 L88.0,363.0 L88.8,365.6 L89.6,365.5 L90.4,366.5 L91.2,366.3 L91.9,366.7 L92.7,368.1 L93.3,366.6 L94.0,366.0 L94.6,366.3 L95.2,365.0 L95.9,364.6 L96.6,364.1 L97.4,365.5 L98.1,365.2 L98.8,364.5 L99.5,363.7 L100.2,364.9 L100.8,364.2 L101.5,364.4 L102.2,364.0 L102.9,363.5 L103.7,364.0 L104.4,363.5 L105.2,363.4 L105.9,362.4 L106.6,360.8 L107.3,360.8 L108.0,359.4 L108.7,359.9 L109.3,360.8 L110.0,360.8 L110.7,361.4 L111.3,363.0 L112.0,362.9 L112.7,362.4 L113.3,361.1 L113.9,360.4 L114.6,360.3 L115.2,359.5 L115.8,360.0 L116.5,359.0 L117.1,359.8 L117.9,360.2 L118.7,360.1 L119.4,361.3 L120.2,361.8 L121.0,362.1 L121.8,362.4 L122.5,363.4 L123.3,362.9 L124.0,362.5 L124.8,364.8 L125.5,364.7 L126.3,365.4 L127.1,364.9 L127.8,364.5 L128.6,364.2 L129.4,362.9 L130.0,362.1 L130.7,361.7 L131.3,362.2 L131.9,360.8 L132.6,359.5 L133.2,360.1 L133.8,359.6 L134.5,358.8 L135.2,358.4 L135.8,360.0 L136.5,360.3 L137.3,359.4 L138.1,358.6 L138.8,356.1 L139.6,355.2 L140.3,357.2 L140.9,357.3 L141.6,358.3 L142.3,357.7 L143.0,358.0 L143.7,356.7 L144.4,356.8 L145.0,359.2 L145.7,359.8 L146.3,360.3 L147.0,360.0 L147.7,361.3 L148.3,360.8 L149.0,359.5 L149.6,358.7 L150.3,357.8 L151.0,358.4 L151.6,359.3 L152.2,358.7 L152.9,359.8 L153.5,360.4 L154.2,361.2 L154.8,362.2 L155.4,362.9 L156.1,362.9 L156.7,361.2 L157.3,361.6 L158.0,360.3 L158.7,359.6 L159.3,359.3 L160.0,358.8 L160.7,357.2 L161.5,356.6 L162.2,355.5 L163.0,355.9 L163.8,354.8 L164.5,354.6 L165.3,353.5 L166.1,352.1 L166.9,351.1 L167.6,350.0 L168.4,349.4 L169.2,350.1 L169.9,350.7 L170.7,351.5 L171.4,351.4 L172.2,351.0 L172.9,352.9 L173.7,353.7 L174.5,353.5 L175.3,354.3 L176.1,354.1 L176.8,355.4 L177.6,356.5 L178.3,355.3 L179.1,355.4 L179.8,356.6 L180.6,355.5 L181.4,355.5 L182.1,355.3 L182.9,355.3 L183.7,354.5 L184.4,355.1 L185.2,354.2 L185.9,354.0 L186.7,353.5 L187.5,354.8 L188.2,355.9 L189.0,356.8 L189.8,357.6 L190.6,358.0 L191.4,357.0 L192.1,357.9 L192.9,357.6 L193.6,359.0 L194.3,361.2 L195.0,362.2 L195.7,360.7 L196.4,360.1 L197.1,359.0 L197.8,359.2 L198.5,359.1 L199.2,358.8 L199.8,357.6 L200.5,356.7 L201.1,357.5 L201.8,359.5 L202.4,360.5 L203.0,361.0 L203.8,363.0 L204.6,364.2 L205.4,366.5 L206.0,365.7 L206.7,365.4 L207.3,364.8 L207.9,364.7 L208.7,364.4 L209.5,364.6 L210.3,364.1 L211.1,363.4 L211.9,360.2 L212.6,359.7 L213.4,358.0 L214.2,358.1 L215.0,359.2 L215.8,361.0 L216.4,362.7 L217.1,363.2 L217.7,364.1 L218.5,364.5 L219.3,363.2 L220.1,362.9 L220.7,361.0 L221.3,360.8 L222.0,360.3 L222.6,359.2 L223.4,360.9 L224.2,361.8 L225.0,361.6 L225.8,361.1 L226.5,360.6 L227.3,360.7 L228.1,360.3 L228.8,361.6 L229.6,361.6 L230.4,361.5 L231.1,362.0 L231.9,362.2 L232.7,363.7 L233.4,361.9 L234.2,362.5 L234.9,360.6 L235.7,360.6 L236.5,361.3 L237.2,359.3 L238.0,360.6 L238.8,359.6 L239.6,359.9 L240.3,360.7 L241.1,363.1 L241.8,363.7 L242.6,363.7 L243.4,365.2 L244.1,364.6 L244.9,365.7 L245.7,365.3 L246.4,367.3 L247.2,367.7 L248.0,367.8 L248.8,368.0 L249.6,367.2 L250.3,365.4 L251.1,365.7 L251.9,364.9 L252.6,364.1 L253.4,362.5 L254.2,361.6 L254.9,361.7 L255.7,359.6 L256.4,360.3 L257.2,358.6 L258.0,360.3 L258.8,360.2 L259.5,361.5 L260.3,363.7 L261.1,363.8 L261.9,363.8 L262.6,362.1 L263.4,362.7 L264.1,362.8 L264.9,364.2 L265.6,363.5 L266.4,364.7 L267.2,365.7 L267.9,365.2 L268.7,364.6 L269.5,365.7 L270.3,364.7 L271.1,364.3 L271.8,363.3 L272.6,362.7 L273.4,363.8 L274.1,363.5 L274.9,365.5 L275.6,365.7 L276.4,365.7 L277.1,366.5 L277.9,366.7 L278.7,366.7 L279.4,366.3 L280.2,366.0 L280.9,366.5 L281.7,365.7 L282.5,366.8 L283.2,366.8 L284.0,366.6 L284.8,366.7 L285.6,365.5 L286.4,364.3 L287.1,365.4 L287.9,363.7 L288.6,363.6 L289.4,363.3 L290.1,361.8 L290.9,361.6 L291.7,360.8 L292.4,360.6 L293.2,359.3 L294.0,357.6 L294.8,357.5 L295.5,356.7 L296.2,356.6 L297.0,356.5 L297.8,356.8 L298.6,355.3 L299.3,355.4 L300.1,354.5 L300.9,355.0 L301.6,355.8 L302.4,355.9 L303.2,355.5 L303.9,354.6 L304.7,353.5 L305.4,353.5 L306.2,353.5 L307.0,352.6 L307.8,352.1 L308.5,351.8 L309.3,350.4 L310.1,351.9 L310.8,351.0 L311.6,353.4 L312.3,353.5 L313.1,354.6 L313.9,355.2 L314.6,355.1 L315.4,355.5 L316.2,355.8 L316.9,357.8 L317.7,358.4 L318.5,358.6 L319.2,358.4 L320.0,358.4 L320.8,356.7 L321.5,356.5 L322.3,355.9 L323.1,357.2 L323.8,357.9 L324.6,357.6 L325.4,357.5 L326.1,359.1 L326.9,360.0 L327.7,359.6 L328.4,358.8 L329.2,359.3 L329.9,359.2 L330.7,358.6 L331.5,359.0 L332.2,359.0 L333.0,359.6 L333.8,360.6 L334.6,360.9 L335.3,360.7 L336.1,359.8 L336.8,359.6 L337.6,359.6 L338.4,361.8 L339.1,362.5 L339.9,362.7 L340.7,362.4 L341.4,363.4 L342.2,364.2 L343.0,363.7 L343.7,365.1 L344.3,364.9 L345.0,365.5 L345.7,365.2 L346.5,365.2 L347.2,364.2 L348.0,363.9 L348.7,364.3 L349.4,363.4 L350.1,364.2 L350.9,363.3 L351.6,363.5 L352.3,363.1 L353.0,362.4 L353.8,362.1 L354.5,360.9 L355.3,360.2 L356.0,360.6 L356.7,362.1 L357.5,361.3 L358.2,361.3 L359.0,362.9 L359.7,363.1 L360.4,363.4 L361.2,361.9 L361.9,362.5 L362.7,361.7 L363.4,361.8 L364.1,361.4 L364.8,359.9 L365.6,359.4 L366.3,360.9 L367.0,359.4 L367.7,361.1 L368.5,361.3 L369.2,362.5 L370.0,362.8 L370.7,364.3 L371.4,364.6 L372.2,363.7 L372.9,364.5 L373.7,363.9 L374.4,363.1 L375.1,364.7 L375.9,366.0 L376.6,365.5 L377.4,366.1 L378.1,368.0 L378.8,367.1 L379.5,366.8 L380.3,366.4 L381.0,366.1 L381.7,366.7 L382.4,366.6 L383.2,367.0 L383.9,365.9 L384.7,366.6 L385.4,365.5 L386.1,366.1 L386.9,364.1 L387.6,365.0 L388.4,364.3 L389.1,364.3 L389.8,364.0 L390.6,366.2 L391.3,365.3 L392.1,366.3 L392.8,366.7 L393.5,366.7 L394.2,367.1 L395.0,366.3 L395.7,365.5 L396.4,365.5 L397.1,365.9 L397.9,365.8 L398.6,367.9 L399.4,368.5 L400.1,368.0 L400.8,367.2 L401.6,366.6 L402.3,366.7 L403.1,366.7 L403.8,366.7 L404.5,367.8 L405.3,368.0 L406.0,368.2 L406.8,366.8 L407.5,368.0 L408.2,368.1 L408.9,367.4 L409.7,366.8 L410.4,367.0 L411.1,365.5 L411.8,364.1 L412.6,363.8 L413.3,364.6 L414.1,364.5 L414.8,363.1 L415.5,364.2 L416.3,364.1 L417.0,365.4 L417.8,366.5 L418.5,366.7 L419.2,365.4 L419.9,365.4 L420.7,364.8 L421.4,364.0 L422.1,364.3 L422.8,363.8 L423.6,362.6 L424.3,362.3 L425.1,361.6 L425.8,361.8 L426.5,362.9 L427.3,362.3 L428.0,364.5 L428.8,364.2 L429.5,365.5 L430.2,365.3 L431.0,367.8 L431.7,367.2 L432.5,369.3 L433.2,369.2 L433.9,369.4 L434.6,369.0 L435.4,367.0 L436.1,367.1 L436.8,366.7 L437.5,365.4 L438.3,366.6 L439.0,365.9 L439.8,365.0 L440.5,364.3 L441.2,364.0 L442.0,363.5 L442.7,364.2 L443.5,363.3 L444.2,363.1 L444.9,364.1 L445.7,363.8 L446.4,364.7 L447.2,365.1 L447.9,366.7 L448.6,367.6 L449.3,367.8 L450.1,367.5 L450.8,369.4 L451.5,369.2 L452.1,367.5 L452.8,366.7" fill="none" stroke="#74A535" stroke-width="1.35" stroke-linejoin="round" stroke-linecap="round"/>
<path d="M452.8,366.7 L454,366.7 L454,393.7" fill="none" stroke="#74A535" stroke-width="1" stroke-opacity="0.75"/>
<path d="M65,364 L66.1,358.9" fill="none" stroke="#74A535" stroke-width="1" stroke-opacity="0.6"/>
<rect x="65" y="65.3" width="400" height="381" fill="none" stroke="#3c3c3c" stroke-width="1.5"/>
<line x1="65" y1="446.3" x2="65" y2="442.3" stroke="#333333" stroke-width="1.3"/>
<line x1="65" y1="65.3" x2="65" y2="69.3" stroke="#333333" stroke-width="1.3"/>
<line x1="165" y1="446.3" x2="165" y2="442.3" stroke="#333333" stroke-width="1.3"/>
<line x1="165" y1="65.3" x2="165" y2="69.3" stroke="#333333" stroke-width="1.3"/>
<line x1="265" y1="446.3" x2="265" y2="442.3" stroke="#333333" stroke-width="1.3"/>
<line x1="265" y1="65.3" x2="265" y2="69.3" stroke="#333333" stroke-width="1.3"/>
<line x1="365" y1="446.3" x2="365" y2="442.3" stroke="#333333" stroke-width="1.3"/>
<line x1="365" y1="65.3" x2="365" y2="69.3" stroke="#333333" stroke-width="1.3"/>
<line x1="465" y1="446.3" x2="465" y2="442.3" stroke="#333333" stroke-width="1.3"/>
<line x1="465" y1="65.3" x2="465" y2="69.3" stroke="#333333" stroke-width="1.3"/>
<line x1="65" y1="446.5" x2="69" y2="446.5" stroke="#333333" stroke-width="1.3"/>
<line x1="465" y1="446.5" x2="461" y2="446.5" stroke="#333333" stroke-width="1.3"/>
<line x1="65" y1="383.1" x2="69" y2="383.1" stroke="#333333" stroke-width="1.3"/>
<line x1="465" y1="383.1" x2="461" y2="383.1" stroke="#333333" stroke-width="1.3"/>
<line x1="65" y1="319.6" x2="69" y2="319.6" stroke="#333333" stroke-width="1.3"/>
<line x1="465" y1="319.6" x2="461" y2="319.6" stroke="#333333" stroke-width="1.3"/>
<line x1="65" y1="256.1" x2="69" y2="256.1" stroke="#333333" stroke-width="1.3"/>
<line x1="465" y1="256.1" x2="461" y2="256.1" stroke="#333333" stroke-width="1.3"/>
<line x1="65" y1="192.7" x2="69" y2="192.7" stroke="#333333" stroke-width="1.3"/>
<line x1="465" y1="192.7" x2="461" y2="192.7" stroke="#333333" stroke-width="1.3"/>
<line x1="65" y1="129.2" x2="69" y2="129.2" stroke="#333333" stroke-width="1.3"/>
<line x1="465" y1="129.2" x2="461" y2="129.2" stroke="#333333" stroke-width="1.3"/>
<line x1="65" y1="65.8" x2="69" y2="65.8" stroke="#333333" stroke-width="1.3"/>
<line x1="465" y1="65.8" x2="461" y2="65.8" stroke="#333333" stroke-width="1.3"/>
<line x1="65" y1="445.8" x2="272" y2="445.8" stroke="#EE0000" stroke-width="3.6"/>
<line x1="272" y1="445.8" x2="456" y2="445.8" stroke="#38A436" stroke-width="3.6"/>
<line x1="272" y1="67.5" x2="272" y2="444" stroke="#000" stroke-width="2" stroke-dasharray="8 7.5 2 7.5" stroke-dashoffset="5.7"/>
<text x="57.5" y="455.5" text-anchor="end" font-size="19.5" fill="#333333" stroke="#333333" stroke-width="0.2">0</text>
<text x="57.5" y="392.1" text-anchor="end" font-size="19.5" fill="#333333" stroke="#333333" stroke-width="0.2">0.1</text>
<text x="57.5" y="328.6" text-anchor="end" font-size="19.5" fill="#333333" stroke="#333333" stroke-width="0.2">0.2</text>
<text x="57.5" y="265.1" text-anchor="end" font-size="19.5" fill="#333333" stroke="#333333" stroke-width="0.2">0.3</text>
<text x="57.5" y="201.7" text-anchor="end" font-size="19.5" fill="#333333" stroke="#333333" stroke-width="0.2">0.4</text>
<text x="57.5" y="138.2" text-anchor="end" font-size="19.5" fill="#333333" stroke="#333333" stroke-width="0.2">0.5</text>
<text x="57.5" y="74.8" text-anchor="end" font-size="19.5" fill="#333333" stroke="#333333" stroke-width="0.2">0.6</text>
<text x="65" y="474" text-anchor="middle" font-size="19.8" fill="#333333" stroke="#333333" stroke-width="0.2">0</text>
<text x="165" y="474" text-anchor="middle" font-size="19.8" fill="#333333" stroke="#333333" stroke-width="0.2">50</text>
<text x="265" y="474" text-anchor="middle" font-size="19.8" fill="#333333" stroke="#333333" stroke-width="0.2">100</text>
<text x="365" y="474" text-anchor="middle" font-size="19.8" fill="#333333" stroke="#333333" stroke-width="0.2">150</text>
<text x="465" y="474" text-anchor="middle" font-size="19.8" fill="#333333" stroke="#333333" stroke-width="0.2">200</text>
<text x="266" y="501.6" text-anchor="middle" font-size="22.6" fill="#333333" stroke="#333333" stroke-width="0.25">Relative Time (min)</text>
<text transform="translate(22,256.3) rotate(-90)" x="0" y="0" text-anchor="middle" font-size="22.5" fill="#333333" stroke="#333333" stroke-width="0.25">Concentration (ppb)</text>
<text x="160.8" y="436.9" font-size="20" fill="#000" stroke="#000" stroke-width="0.2" textLength="24" lengthAdjust="spacingAndGlyphs">off</text>
<text x="338.6" y="437.2" font-size="20" fill="#000" stroke="#000" stroke-width="0.2" textLength="22.5" lengthAdjust="spacingAndGlyphs">on</text>
<text x="150.4" y="17.3" font-size="15.6" fill="#000" stroke="#000" stroke-width="0.1" textLength="73.5" lengthAdjust="spacingAndGlyphs">Injection 1</text>
<line x1="153" y1="26.3" x2="153" y2="56" stroke="#1a1a1a" stroke-width="1.1"/>
<path d="M148.4,54.2 L153,55.6 L157.6,54.2 L153,63.4 Z" fill="#000"/>
<text x="283.5" y="17.3" font-size="15.6" fill="#000" stroke="#000" stroke-width="0.1" textLength="73.5" lengthAdjust="spacingAndGlyphs">Injection 2</text>
<line x1="284.5" y1="26.3" x2="284.5" y2="56" stroke="#1a1a1a" stroke-width="1.1"/>
<path d="M279.9,54.2 L284.5,55.6 L289.1,54.2 L284.5,63.4 Z" fill="#000"/>
<rect x="57" y="516.6" width="408.2" height="24.6" fill="#fff" stroke="#333" stroke-width="1.5"/>
<line x1="62" y1="529" x2="84" y2="529" stroke="#1A6FC0" stroke-width="4" stroke-linecap="round"/>
<text x="88.7" y="537.2" font-size="19" fill="#111" stroke="#111" stroke-width="0.25">m127</text>
<line x1="143.3" y1="529" x2="165" y2="529" stroke="#F39415" stroke-width="4" stroke-linecap="round"/>
<text x="170.6" y="537.2" font-size="19" fill="#111" stroke="#111" stroke-width="0.25">m139</text>
<line x1="226.3" y1="529" x2="247.5" y2="529" stroke="#F8E04A" stroke-width="4" stroke-linecap="round"/>
<text x="253.2" y="537.2" font-size="19" fill="#111" stroke="#111" stroke-width="0.25">m153</text>
<line x1="307.5" y1="529" x2="329" y2="529" stroke="#9B3FCF" stroke-width="4" stroke-linecap="round"/>
<text x="333.8" y="537.2" font-size="19" fill="#111" stroke="#111" stroke-width="0.25">m155</text>
<line x1="389.3" y1="529" x2="412" y2="529" stroke="#8FD18A" stroke-width="4" stroke-linecap="round"/>
<text x="416.1" y="537.2" font-size="19" fill="#111" stroke="#111" stroke-width="0.25">m169</text>
</svg>
</body></html>
